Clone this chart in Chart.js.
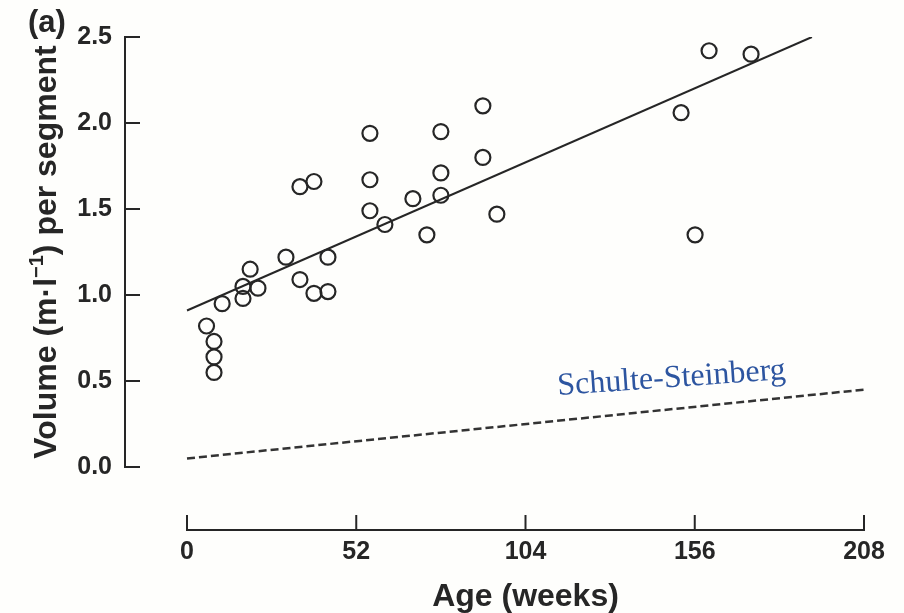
<!DOCTYPE html>
<html>
<head>
<meta charset="utf-8">
<script src="https://cdn.jsdelivr.net/npm/chart.js@4"></script>
<style>
  html, body { margin: 0; padding: 0; background: #fefefc; }
  #wrap { width: 904px; height: 613px; }
</style>
</head>
<body>
<div id="wrap"><canvas id="chart"></canvas></div>
<script>
// data (weeks, ml per segment)
const ageWeeks = [6, 8.3, 8.3, 8.3, 10.8, 17.2, 17.2, 19.4, 21.8, 30.4, 34.7, 34.7, 39, 39, 43.3, 43.3,
  56.2, 56.2, 56.2, 60.8, 69.4, 73.7, 78, 78, 78, 90.9, 90.9, 95.2, 151.8, 156.1, 160.4, 173.3];
const volume = [0.82, 0.73, 0.64, 0.55, 0.95, 1.05, 0.98, 1.15, 1.04, 1.22, 1.63, 1.09, 1.66, 1.01, 1.22, 1.02,
  1.94, 1.67, 1.49, 1.41, 1.56, 1.35, 1.95, 1.71, 1.58, 2.10, 1.80, 1.47, 2.06, 1.35, 2.42, 2.40];
const fitAge = [0, 192];
const fitVolume = [0.91, 2.5];
const ssAge = [0, 208];
const ssVolume = [0.05, 0.45];
const xTicks = [0, 52, 104, 156, 208];
const yTicks = [0, 0.5, 1.0, 1.5, 2.0, 2.5];

const ink = '#262626';
const sans = '"Liberation Sans", Arial, sans-serif';

function toPoints(xs, ys) {
  return xs.map((x, i) => ({ x: x, y: ys[i] }));
}

// detached axes, tick marks and the extra text
const decorations = {
  id: 'decorations',
  afterDraw(chart) {
    const ctx = chart.ctx;
    const xs = chart.scales.x;
    const ys = chart.scales.y;
    const left = chart.chartArea.left;
    const bottom = chart.chartArea.bottom;

    ctx.save();
    ctx.strokeStyle = ink;
    ctx.lineWidth = 2;
    ctx.lineCap = 'square';

    // y axis
    ctx.beginPath();
    ctx.moveTo(left, ys.getPixelForValue(yTicks[0]));
    ctx.lineTo(left, ys.getPixelForValue(yTicks[yTicks.length - 1]));
    for (const t of yTicks) {
      const py = ys.getPixelForValue(t);
      ctx.moveTo(left, py);
      ctx.lineTo(left + 14, py);
    }
    // x axis
    ctx.moveTo(xs.getPixelForValue(xTicks[0]), bottom);
    ctx.lineTo(xs.getPixelForValue(xTicks[xTicks.length - 1]), bottom);
    for (const t of xTicks) {
      const px = xs.getPixelForValue(t);
      ctx.moveTo(px, bottom);
      ctx.lineTo(px, bottom - 14);
    }
    ctx.stroke();

    ctx.fillStyle = ink;
    // panel letter
    ctx.font = 'bold 31px ' + sans;
    ctx.textAlign = 'left';
    ctx.textBaseline = 'alphabetic';
    ctx.fillText('(a)', 28, 32);

    // x title
    ctx.font = 'bold 32px ' + sans;
    ctx.textAlign = 'center';
    const midX = (xs.getPixelForValue(xTicks[0]) + xs.getPixelForValue(xTicks[xTicks.length - 1])) / 2;
    ctx.fillText('Age (weeks)', midX, 606);

    // y title with superscript
    const parts = [
      ['Volume (m\u00b7l', 'bold 32px ' + sans, 0],
      ['\u22121', 'bold 20px ' + sans, -13],
      [') per segment', 'bold 32px ' + sans, 0]
    ];
    let total = 0;
    for (const p of parts) {
      ctx.font = p[1];
      total += ctx.measureText(p[0]).width;
    }
    const midY = (ys.getPixelForValue(yTicks[0]) + ys.getPixelForValue(yTicks[yTicks.length - 1])) / 2;
    ctx.save();
    ctx.translate(56, midY);
    ctx.rotate(-Math.PI / 2);
    ctx.textAlign = 'left';
    let cx = -total / 2;
    for (const p of parts) {
      ctx.font = p[1];
      ctx.fillText(p[0], cx, p[2]);
      cx += ctx.measureText(p[0]).width;
    }
    ctx.restore();

    // label for the dashed reference line
    ctx.save();
    ctx.translate(558, 395);
    ctx.rotate(-4 * Math.PI / 180);
    ctx.fillStyle = '#2d55a0';
    ctx.font = '32px "Liberation Serif", "Times New Roman", serif';
    ctx.textAlign = 'left';
    ctx.fillText('Schulte-Steinberg', 0, 0);
    ctx.restore();

    ctx.restore();
  }
};

const ctx = document.getElementById('chart');

let mainChart = new Chart(ctx, {
  type: 'scatter',
  data: {
    datasets: [
      {
        label: 'Measured',
        data: toPoints(ageWeeks, volume),
        pointRadius: 7.5,
        pointBorderWidth: 2.2,
        borderColor: ink,
        backgroundColor: 'rgba(0,0,0,0)',
        showLine: false
      },
      {
        label: 'Fit',
        data: toPoints(fitAge, fitVolume),
        showLine: true,
        pointRadius: 0,
        borderColor: ink,
        borderWidth: 2
      },
      {
        label: 'Schulte-Steinberg',
        data: toPoints(ssAge, ssVolume),
        showLine: true,
        pointRadius: 0,
        borderColor: '#333333',
        borderWidth: 2.5,
        borderDash: [8, 4]
      }
    ]
  },
  options: {
    responsive: true,
    maintainAspectRatio: false,
    animation: false,
    layout: {
      padding: { top: 37, right: 40, left: 0, bottom: 0 }
    },
    plugins: {
      legend: { display: false },
      tooltip: { enabled: false }
    },
    scales: {
      x: {
        type: 'linear',
        min: -19.05,
        max: 208,
        grid: { display: false, drawTicks: false },
        border: { display: false },
        afterBuildTicks: (s) => { s.ticks = xTicks.map(v => ({ value: v })); },
        afterFit: (s) => { s.height = 83; },
        ticks: {
          color: ink,
          padding: 7,
          maxRotation: 0,
          autoSkip: false,
          font: { family: sans, size: 25, weight: 'bold' }
        }
      },
      y: {
        min: -0.366,
        max: 2.5,
        grid: { display: false, drawTicks: false },
        border: { display: false },
        afterBuildTicks: (s) => { s.ticks = yTicks.map(v => ({ value: v })); },
        afterFit: (s) => { s.width = 125; },
        ticks: {
          color: ink,
          padding: 13,
          autoSkip: false,
          callback: (v) => Number(v).toFixed(1),
          font: { family: sans, size: 25, weight: 'bold' }
        }
      }
    }
  },
  plugins: [decorations]
});
</script>
</body>
</html>
